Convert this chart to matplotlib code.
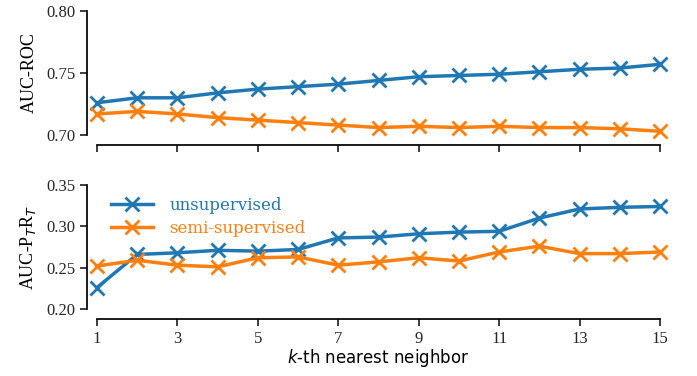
import matplotlib
matplotlib.use("Agg")
import matplotlib.pyplot as plt

k = list(range(1, 16))
roc_unsup = [0.726, 0.730, 0.730, 0.734, 0.737, 0.739, 0.741, 0.744, 0.747, 0.748, 0.749, 0.751, 0.753, 0.754, 0.757]
roc_semi = [0.717, 0.719, 0.717, 0.714, 0.712, 0.710, 0.708, 0.706, 0.707, 0.706, 0.707, 0.706, 0.706, 0.705, 0.703]
pr_unsup = [0.226, 0.266, 0.268, 0.271, 0.270, 0.272, 0.286, 0.287, 0.291, 0.293, 0.294, 0.310, 0.321, 0.323, 0.324]
pr_semi = [0.252, 0.259, 0.253, 0.251, 0.262, 0.263, 0.253, 0.257, 0.262, 0.258, 0.269, 0.276, 0.267, 0.267, 0.269]
xticks = [1, 3, 5, 7, 9, 11, 13, 15]
series_names = ["unsupervised", "semi-supervised"]
colors = ["#1f77b4", "#ff7f0e"]

W, H = 697, 376
fig = plt.figure(figsize=(W / 100, H / 100), dpi=100)

def rect(x0, y0, x1, y1):
    return [x0 / W, 1 - y1 / H, (x1 - x0) / W, (y1 - y0) / H]

ax1 = fig.add_axes(rect(97, 11, 660, 135))
ax2 = fig.add_axes(rect(97, 185, 660, 309))

serif = "Liberation Serif"
kw = dict(marker="x", markersize=10, markeredgewidth=2, linewidth=2.5, clip_on=False)

ax1.plot(k, roc_unsup, color=colors[0], **kw)
ax1.plot(k, roc_semi, color=colors[1], **kw)
ax2.plot(k, pr_unsup, color=colors[0], label=series_names[0], **kw)
ax2.plot(k, pr_semi, color=colors[1], label=series_names[1], **kw)

ax1.set_ylim(0.70, 0.80)
ax1.set_yticks([0.70, 0.75, 0.80])
ax2.set_ylim(0.20, 0.35)
ax2.set_yticks([0.20, 0.25, 0.30, 0.35])

for ax in (ax1, ax2):
    ax.set_xlim(1, 15)
    ax.set_xticks(xticks)
    for s in ("top", "right"):
        ax.spines[s].set_visible(False)
    ax.spines["left"].set_position(("outward", 7.2))
    ax.spines["bottom"].set_position(("outward", 7.2))
    ax.spines["left"].set_linewidth(1.25)
    ax.spines["bottom"].set_linewidth(1.25)
    ax.tick_params(width=1.25, length=5, labelsize=12, colors="#262626")
    ax.patch.set_visible(False)

ax1.set_xticklabels([])
ax1.set_yticklabels(["0.70", "0.75", "0.80"], fontfamily=serif, fontsize=12)
ax2.set_yticklabels(["0.20", "0.25", "0.30", "0.35"], fontfamily=serif, fontsize=12)
ax2.set_xticklabels([str(t) for t in xticks], fontfamily=serif, fontsize=12)

ax1.set_ylabel("AUC-ROC", fontfamily=serif, fontsize=13, labelpad=6)
ax2.set_ylabel(r"AUC-P$_T$R$_T$", fontfamily=serif, fontsize=13, labelpad=6)
ax2.set_xlabel(r"$k$-th nearest neighbor", fontfamily="DejaVu Sans", fontsize=12, labelpad=0)

leg = ax2.legend(loc="upper left", frameon=False, prop={"family": "DejaVu Serif", "size": 12},
                 handlelength=2.5, handletextpad=1.0, labelspacing=0.35,
                 borderpad=0, borderaxespad=0,
                 bbox_to_anchor=(0.025, 0.905))
for txt, c in zip(leg.get_texts(), colors):
    txt.set_color(c)

fig.savefig("out.png", dpi=100)
